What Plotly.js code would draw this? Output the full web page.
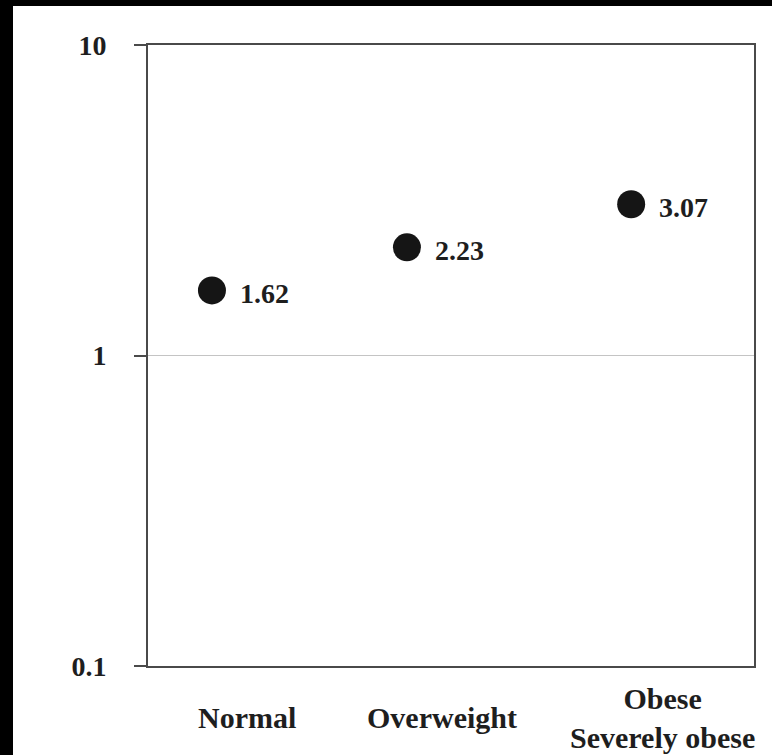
<!DOCTYPE html>
<html>
<head>
<meta charset="utf-8">
<script src="https://cdn.plot.ly/plotly-3.0.1.min.js"></script>
<style>
  html, body { margin: 0; padding: 0; background: #000; width: 772px; height: 755px; overflow: hidden; }
  #chart { position: absolute; left: 13px; top: 6px; width: 759px; height: 749px; background: #fff; }
</style>
</head>
<body>
<div id="chart"></div>
<script>
// ---- data ----
const categories = ["Normal", "Overweight", "Obese<br>Severely obese"];
const xPos = [1, 2, 3.15];
const values = [1.62, 2.23, 3.07];
const valueLabels = ["1.62", "2.23", "3.07"];
const yTickVals = [0.1, 1, 10];
const yTickText = ["0.1", "1", "10"];

const FONT = "Liberation Serif, Times New Roman, serif";
const INK = "#1e1e1e";
const AXIS = "#4a4a4a";

const trace = {
  type: "scatter",
  mode: "markers",
  x: xPos,
  y: values,
  marker: { size: 28, color: "#151515" },
  hoverinfo: "skip",
  showlegend: false
};

const annotations = [];
values.forEach((v, i) => {
  annotations.push({
    x: xPos[i], y: Math.log10(v), xref: "x", yref: "y",
    text: "<b>" + valueLabels[i] + "</b>", showarrow: false,
    xanchor: "left", yanchor: "middle", xshift: 26, yshift: -3,
    font: { family: FONT, size: 28, color: INK }
  });
});
categories.forEach((c, i) => {
  annotations.push({
    x: xPos[i] + (i === 2 ? 0.16 : 0.18), y: -0.083, xref: "x", yref: "paper",
    text: "<b>" + c + "</b>", showarrow: false,
    xanchor: "center", yanchor: "middle",
    font: { family: FONT, size: 30, color: INK }
  });
});

const layout = {
  width: 759, height: 749,
  margin: { l: 135, r: 18, t: 39, b: 89 },
  paper_bgcolor: "#fff", plot_bgcolor: "#fff",
  xaxis: {
    range: [0.672, 3.78], showgrid: false, zeroline: false,
    showticklabels: false, ticks: "",
    showline: true, linecolor: AXIS, linewidth: 2, mirror: true
  },
  yaxis: {
    type: "log", range: [-1, 1],
    tickvals: yTickVals, ticktext: yTickText,
    ticks: "outside", ticklen: 12, tickwidth: 2, tickcolor: AXIS,
    ticklabelstandoff: 22,
    tickfont: { family: FONT, size: 28, color: INK, weight: "bold" },
    showgrid: true, gridcolor: "#c4c4c4", gridwidth: 1,
    zeroline: false,
    showline: true, linecolor: AXIS, linewidth: 2, mirror: true
  },
  annotations: annotations
};

Plotly.newPlot("chart", [trace], layout, { displayModeBar: false, staticPlot: true });
</script>
</body>
</html>
